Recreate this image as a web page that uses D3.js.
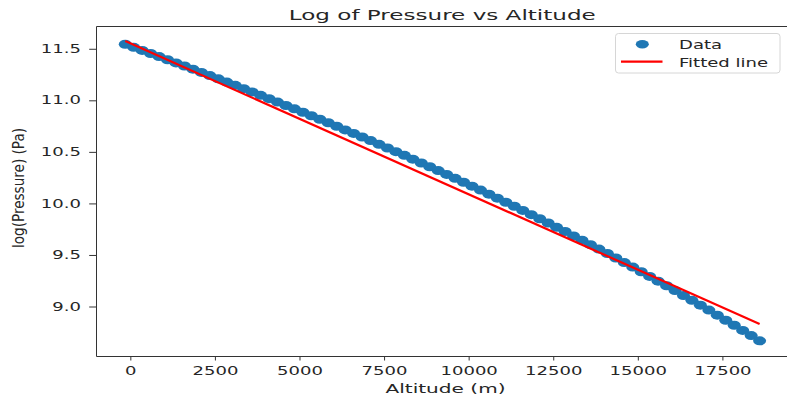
<!DOCTYPE html>
<html>

<head>
  <title>Log of Pressure vs Altitude</title>

  <style>
    body,
    html {
      margin: 0;
      padding: 0;
      background: #fff;
    }

    text {
      font-family: "DejaVu Sans", sans-serif;
      fill: #262626;
    }
  </style>
</head>

<body>

  <svg id="svg" width="787" height="401"></svg>

  <script src="https://d3js.org/d3.v7.min.js"></script>
  <script>
    // altitude (m) of each sample
    const altitudes = [
      -150, 100, 350, 600, 850, 1100, 1350, 1600, 1850, 2100,
      2350, 2600, 2850, 3100, 3350, 3600, 3850, 4100, 4350, 4600,
      4850, 5100, 5350, 5600, 5850, 6100, 6350, 6600, 6850, 7100,
      7350, 7600, 7850, 8100, 8350, 8600, 8850, 9100, 9350, 9600,
      9850, 10100, 10350, 10600, 10850, 11100, 11350, 11600, 11850, 12100,
      12350, 12600, 12850, 13100, 13350, 13600, 13850, 14100, 14350, 14600,
      14850, 15100, 15350, 15600, 15850, 16100, 16350, 16600, 16850, 17100,
      17350, 17600, 17850, 18100, 18350, 18600
    ]

    // log(Pressure) of each sample
    const logPressure = [
      11.544, 11.514, 11.484, 11.454, 11.424, 11.394, 11.363, 11.333, 11.302, 11.271,
      11.240, 11.208, 11.177, 11.145, 11.113, 11.081, 11.048, 11.016, 10.983, 10.950,
      10.917, 10.884, 10.850, 10.816, 10.782, 10.748, 10.713, 10.679, 10.644, 10.609,
      10.573, 10.538, 10.502, 10.466, 10.429, 10.392, 10.356, 10.318, 10.281, 10.243,
      10.205, 10.167, 10.129, 10.090, 10.051, 10.011, 9.972, 9.932, 9.891, 9.851,
      9.810, 9.768, 9.727, 9.685, 9.643, 9.600, 9.557, 9.514, 9.470, 9.426,
      9.382, 9.337, 9.292, 9.246, 9.201, 9.154, 9.107, 9.060, 9.013, 8.965,
      8.916, 8.867, 8.818, 8.768, 8.718, 8.667
    ]

    // fitted straight line, end points
    const fitAltitudes = [-150, 18600]
    const fitLogPressure = [11.575, 8.83]

    const xTicks = [0, 2500, 5000, 7500, 10000, 12500, 15000, 17500]
    const yTicks = [9.0, 9.5, 10.0, 10.5, 11.0, 11.5]

    const legendLabels = ["Data", "Fitted line"]

    // the picture is stretched sideways, so the text is too
    const stretch = 1.57
    const blue = "#1f77b4"

    const plotLeft = 96.5
    const plotRight = 786
    const plotTop = 26.5
    const plotBottom = 356.5

    const svg = d3.select("#svg")

    const xScale = d3.scaleLinear()
      .domain([-1000, 19380])
      .range([plotLeft, plotRight])

    const yScale = d3.scaleLinear()
      .domain([8.515, 11.716])
      .range([plotBottom, plotTop])

    const points = altitudes.map((a, i) => ({ a: a, p: logPressure[i] }))
    const fitPoints = fitAltitudes.map((a, i) => ({ a: a, p: fitLogPressure[i] }))

    // axes
    const bottomAxis = d3.axisBottom(xScale)
      .tickValues(xTicks)
      .tickFormat(d3.format("d"))
      .tickSize(4)
      .tickSizeOuter(0)
      .tickPadding(6.2)

    const leftAxis = d3.axisLeft(yScale)
      .tickValues(yTicks)
      .tickFormat(d3.format(".1f"))
      .tickSize(7.3)
      .tickSizeOuter(0)

    const gx = svg.append("g")
      .attr("transform", `translate(0, ${plotBottom})`)
      .call(bottomAxis)
    gx.select(".domain").remove()
    gx.selectAll(".tick line").attr("stroke", "#333")
    gx.selectAll(".tick text")
      .attr("font-size", 11.5)
      .attr("font-family", "DejaVu Sans")
      .attr("fill", "#262626")
      .attr("transform", `scale(${stretch},1)`)

    const gy = svg.append("g")
      .attr("transform", `translate(${plotLeft}, 0)`)
      .call(leftAxis)
    gy.select(".domain").remove()
    gy.selectAll(".tick line").attr("stroke", "#333")
    gy.selectAll(".tick text")
      .attr("font-size", 11.5)
      .attr("font-family", "DejaVu Sans")
      .attr("fill", "#262626")
      .attr("x", -15.5 / stretch)
      .attr("transform", `scale(${stretch},1)`)

    // frame (the right spine falls outside the picture)
    const frame = svg.append("g")
      .attr("stroke", "#333")
      .attr("stroke-width", 1)
    frame.append("line").attr("x1", plotLeft).attr("x2", plotLeft).attr("y1", plotTop).attr("y2", plotBottom)
    frame.append("line").attr("x1", plotLeft).attr("x2", 787).attr("y1", plotBottom).attr("y2", plotBottom)
    frame.append("line").attr("x1", plotLeft).attr("x2", 787).attr("y1", plotTop).attr("y2", plotTop)

    // data points
    svg.append("g")
      .selectAll("ellipse")
      .data(points)
      .enter()
      .append("ellipse")
      .attr("cx", d => xScale(d.a))
      .attr("cy", d => yScale(d.p))
      .attr("rx", 6.5)
      .attr("ry", 4.5)
      .attr("fill", blue)

    // fitted line
    const lineGen = d3.line()
      .x(d => xScale(d.a))
      .y(d => yScale(d.p))

    svg.append("path")
      .attr("d", lineGen(fitPoints))
      .attr("fill", "none")
      .attr("stroke", "red")
      .attr("stroke-width", 2.2)

    // title and axis labels
    svg.append("text")
      .attr("transform", `translate(${(plotLeft + plotRight) / 2 + 1}, 20) scale(${stretch},1)`)
      .attr("text-anchor", "middle")
      .attr("font-size", 14.7)
      .text("Log of Pressure vs Altitude")

    svg.append("text")
      .attr("transform", `translate(445.5, 393) scale(${stretch},1)`)
      .attr("text-anchor", "middle")
      .attr("font-size", 12.8)
      .text("Altitude (m)")

    svg.append("text")
      .attr("transform", "translate(24, 188) rotate(-90)")
      .attr("text-anchor", "middle")
      .attr("font-size", 15)
      .attr("textLength", 120)
      .attr("lengthAdjust", "spacingAndGlyphs")
      .text("log(Pressure) (Pa)")

    // legend
    const legend = svg.append("g")
    legend.append("rect")
      .attr("x", 615.5)
      .attr("y", 33.5)
      .attr("width", 164.5)
      .attr("height", 39.5)
      .attr("rx", 3)
      .attr("fill", "#fff")
      .attr("fill-opacity", 0.8)
      .attr("stroke", "#d6d6d6")
    legend.append("ellipse")
      .attr("cx", 642.3)
      .attr("cy", 44.3)
      .attr("rx", 6.5)
      .attr("ry", 4.2)
      .attr("fill", blue)
    legend.append("line")
      .attr("x1", 621)
      .attr("x2", 662.5)
      .attr("y1", 61.7)
      .attr("y2", 61.7)
      .attr("stroke", "red")
      .attr("stroke-width", 2.2)
    legend.selectAll("text.entry")
      .data(legendLabels)
      .enter()
      .append("text")
      .attr("class", "entry")
      .attr("transform", (d, i) => `translate(679, ${48.6 + i * 18}) scale(${stretch},1)`)
      .attr("font-size", 11.5)
      .text(d => d)
  </script>
</body>

</html>
